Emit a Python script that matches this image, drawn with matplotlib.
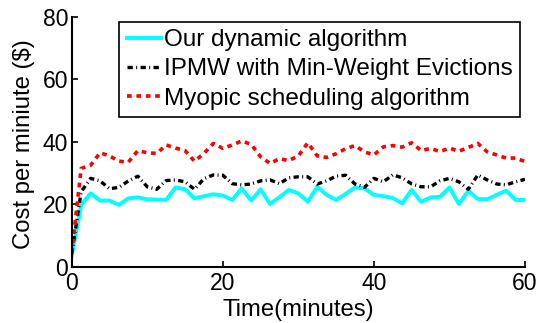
import numpy as np
import matplotlib
matplotlib.use("Agg")
import matplotlib.pyplot as plt

plt.rcParams['font.family'] = ['Liberation Sans', 'DejaVu Sans']

# time axis: samples every 1.25 minutes
time_min = np.arange(0, 60.01, 1.25)

our_dynamic = [3.5, 19.8, 23.5, 21.2, 21.2, 19.8, 21.9, 22.2, 21.6, 21.5,
               21.4, 25.4, 24.8, 21.9, 22.6, 23.2, 22.8, 21.4, 25.1, 21.2,
               24.8, 20.1, 22.3, 24.6, 23.5, 20.8, 25.6, 23.0, 21.4, 23.3,
               25.4, 25.1, 23.0, 22.6, 22.0, 20.3, 24.6, 20.8, 22.2, 22.4,
               25.4, 20.1, 24.3, 21.7, 21.6, 23.0, 24.4, 21.4, 21.4]

ipmw = [4.0, 24.0, 28.3, 27.5, 25.0, 25.4, 27.5, 29.0, 25.6, 24.8,
        27.6, 27.8, 27.2, 24.8, 28.2, 29.4, 29.3, 26.6, 26.2, 26.5,
        27.5, 27.8, 26.6, 28.5, 28.8, 28.8, 26.5, 27.5, 29.0, 29.3,
        26.5, 25.4, 28.3, 27.2, 29.4, 28.5, 26.5, 25.6, 25.6, 27.5,
        28.3, 27.2, 24.8, 29.4, 27.8, 26.5, 26.2, 27.2, 28.0]

myopic = [4.5, 31.5, 32.5, 36.5, 35.5, 33.8, 33.5, 37.2, 36.5, 36.3,
          39.0, 38.0, 37.2, 33.8, 36.3, 39.5, 37.9, 39.0, 40.3, 39.2,
          35.2, 33.1, 34.6, 34.0, 35.5, 39.7, 35.5, 35.0, 36.2, 37.8,
          38.8, 36.8, 35.8, 38.4, 38.8, 38.3, 39.7, 37.2, 37.9, 36.9,
          38.0, 37.0, 38.2, 39.5, 36.8, 35.8, 34.8, 34.8, 33.7]

labels = ['Our dynamic algorithm',
          'IPMW with Min-Weight Evictions',
          'Myopic scheduling algorithm']

fig = plt.figure(figsize=(5.45, 3.23), dpi=100)
ax = fig.add_axes([0.1316, 0.1743, 0.8317, 0.7731])

ax.plot(time_min, our_dynamic, color='cyan', lw=2.8, label=labels[0])
ax.plot(time_min, ipmw, color='black', lw=2.4, dashes=(1.6, 1.0, 0.3, 1.0),
        label=labels[1])
ax.plot(time_min, myopic, color='red', lw=2.6, dashes=(1.3, 1.3),
        label=labels[2])

ax.set_xlim(0, 60)
ax.set_ylim(0, 80)
ax.set_xticks([0, 20, 40, 60])
ax.set_yticks([0, 20, 40, 60, 80])
ax.spines['top'].set_visible(False)
ax.spines['right'].set_visible(False)
for s in ('left', 'bottom'):
    ax.spines[s].set_linewidth(1.5)
ax.tick_params(direction='in', length=4, width=1.2, labelsize=16.5, pad=4)
ax.tick_params(axis='y', pad=2.5)
ax.set_xlabel('Time(minutes)', fontsize=17.2, labelpad=3)
ax.set_ylabel('Cost per miniute (\\$)', fontsize=17.2)
ax.yaxis.set_label_coords(-0.08, 0.49)

leg = ax.legend(loc='upper right', bbox_to_anchor=(0.99, 0.981), fontsize=17.5,
                fancybox=False, framealpha=1, edgecolor='black',
                handlelength=1.4, handletextpad=0.15, borderpad=0.3,
                labelspacing=0.3, borderaxespad=0)
leg.get_frame().set_linewidth(1.2)

fig.savefig('out.png', dpi=100)
